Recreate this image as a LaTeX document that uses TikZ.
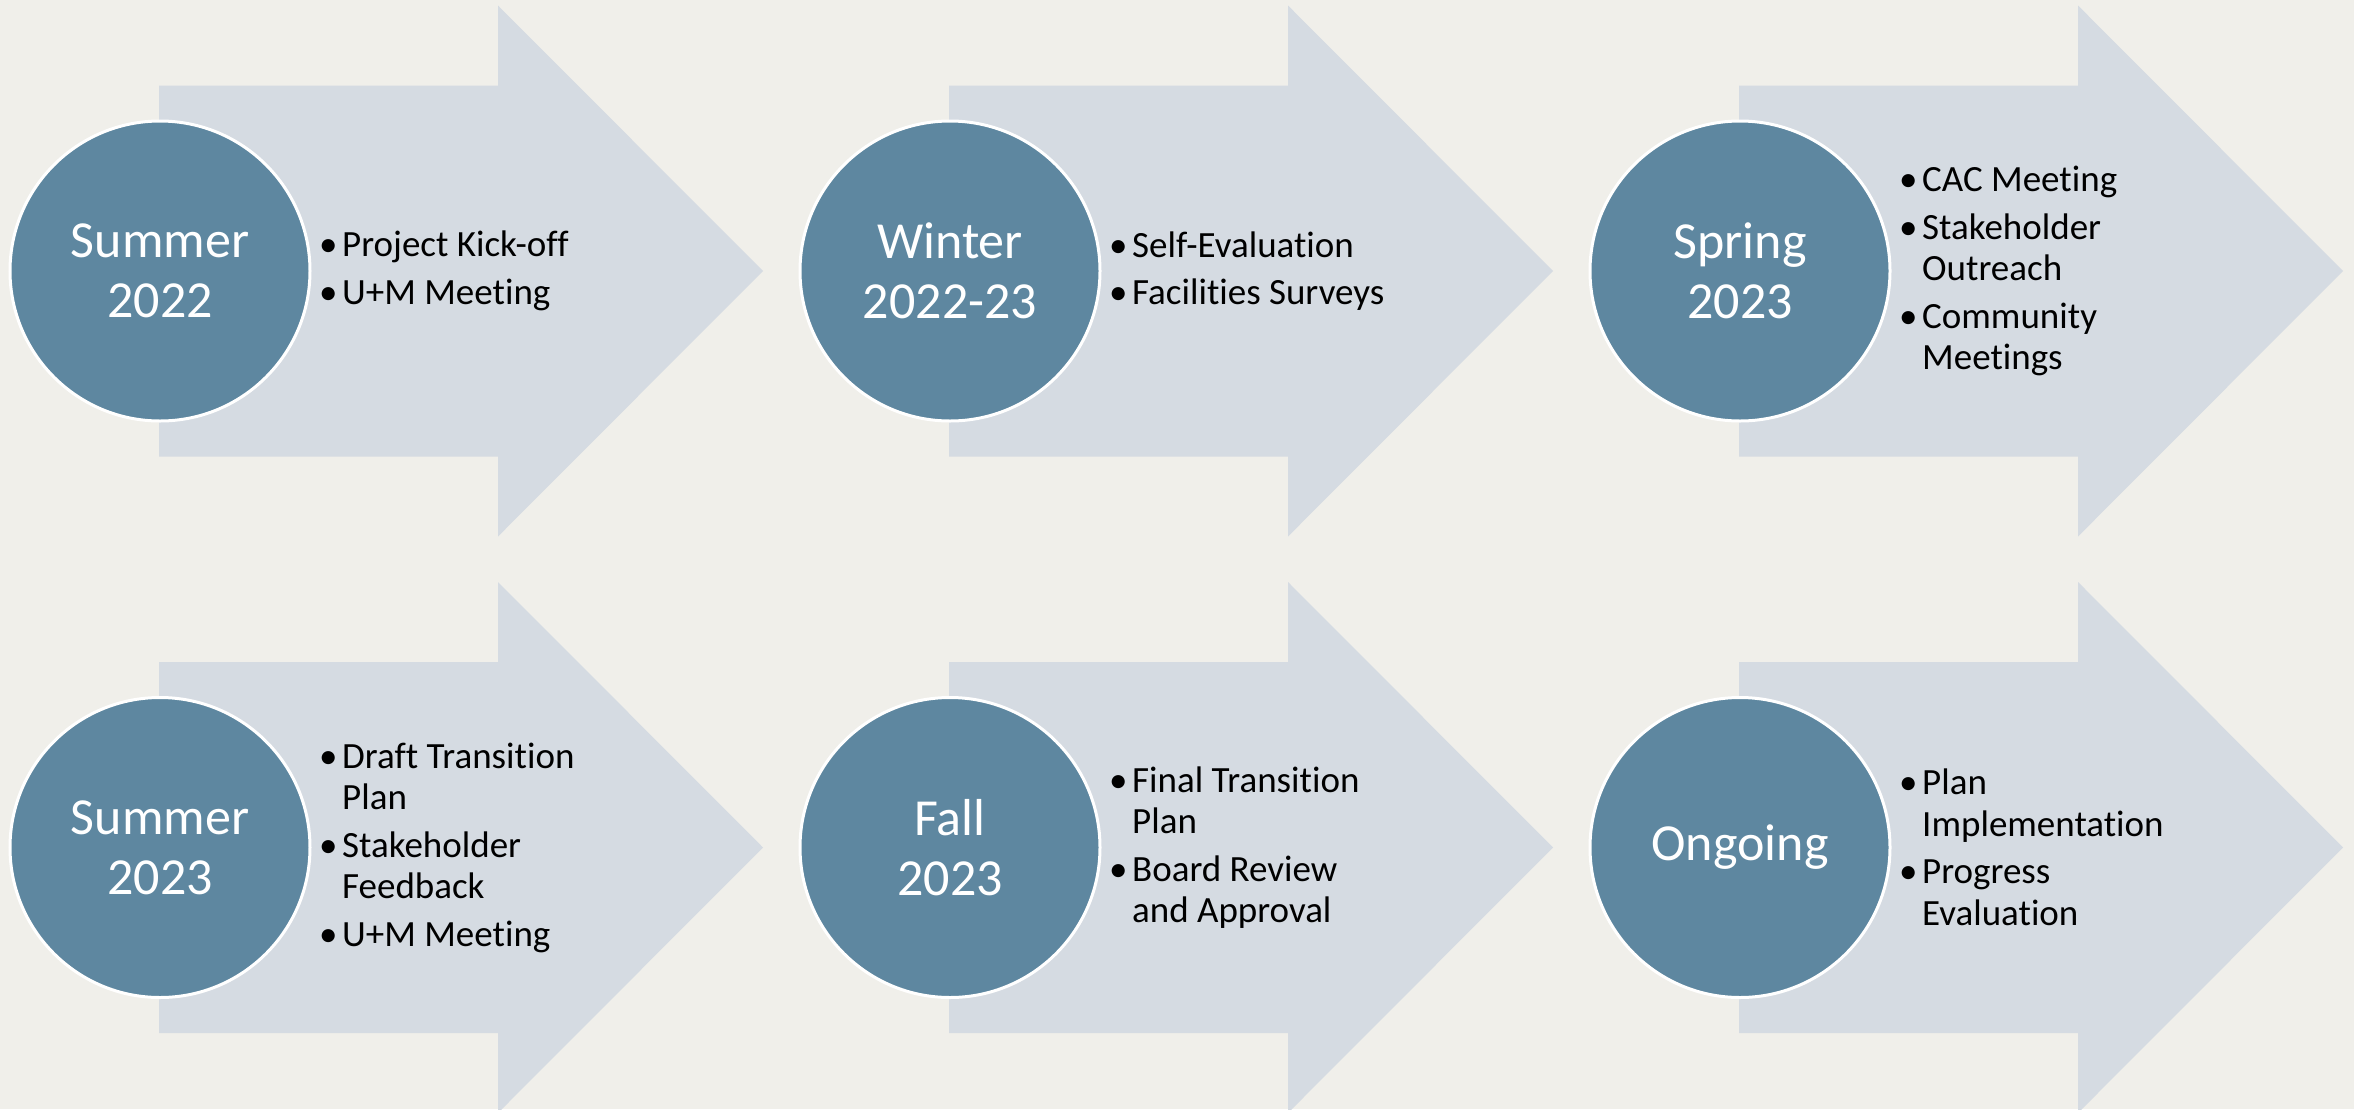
\documentclass[tikz,border=0pt]{standalone}
\usepackage{fontspec}
\setmainfont{Carlito}[Ligatures=NoCommon]
\definecolor{bgcol}{HTML}{F0EFEA}
\definecolor{arrowcol}{HTML}{D5DBE2}
\definecolor{circcol}{HTML}{5E87A0}
\newcommand{\itm}[1]{\makebox[23pt][l]{\textbullet}#1}
\newcommand{\cnt}[1]{\hspace*{23pt}#1}
\tikzset{
  bigarrow/.style={fill=arrowcol, draw=none},
  phasecirc/.style={circle, fill=circcol, draw=white, line width=3pt, minimum size=300pt, inner sep=0pt,
    text=white, align=center, font=\fontsize{52}{60}\selectfont},
  bullets/.style={anchor=west, inner sep=0pt, align=left, text=black, font=\fontsize{37}{41.5}\selectfont}
}
\begin{document}
\begin{tikzpicture}[x=1pt,y=-1pt]
\fill[bgcol] (0,0) rectangle (2354,1109);
\useasboundingbox (0,0) rectangle (2354,1109);
% arrows
\foreach \cx/\cy in {160/271, 950/271, 1740/271, 160/847.5, 950/847.5, 1740/847.5}{
  \fill[bigarrow] (\cx-1,\cy-185.5) -- (\cx+338,\cy-185.5) -- (\cx+338,\cy-265.5) -- (\cx+603,\cy)
     -- (\cx+338,\cy+265.5) -- (\cx+338,\cy+185.5) -- (\cx-1,\cy+185.5) -- cycle;
}
% circles
\node[phasecirc] (c1) at (160,271) {Summer\\2022};
\node[phasecirc] (c2) at (950,271) {Winter\\2022-23};
\node[phasecirc] (c3) at (1740,271) {Spring\\2023};
\node[phasecirc] (c4) at (160,847.5) {Summer\\2023};
\node[phasecirc] (c5) at (950,847.5) {Fall\\2023};
\node[phasecirc] (c6) at (1740,847.5) {Ongoing};
% bullet texts
\node[bullets] (t1) at (319,271) {\itm{Project Kick-off}\\[6pt]\itm{U+M Meeting}};
\node[bullets] (t2) at (1109,271) {\itm{Self-Evaluation}\\[6pt]\itm{Facilities Surveys}};
\node[bullets] (t3) at (1899,271) {\itm{CAC Meeting}\\[6pt]\itm{Stakeholder}\\\cnt{Outreach}\\[6pt]\itm{Community}\\\cnt{Meetings}};
\node[bullets] (t4) at (319,847.5) {\itm{Draft Transition}\\\cnt{Plan}\\[6pt]\itm{Stakeholder}\\\cnt{Feedback}\\[6pt]\itm{U+M Meeting}};
\node[bullets] (t5) at (1109,847.5) {\itm{Final Transition}\\\cnt{Plan}\\[6pt]\itm{Board Review}\\\cnt{and Approval}};
\node[bullets] (t6) at (1899,847.5) {\itm{Plan}\\\cnt{Implementation}\\[6pt]\itm{Progress}\\\cnt{Evaluation}};
\end{tikzpicture}
\end{document}
